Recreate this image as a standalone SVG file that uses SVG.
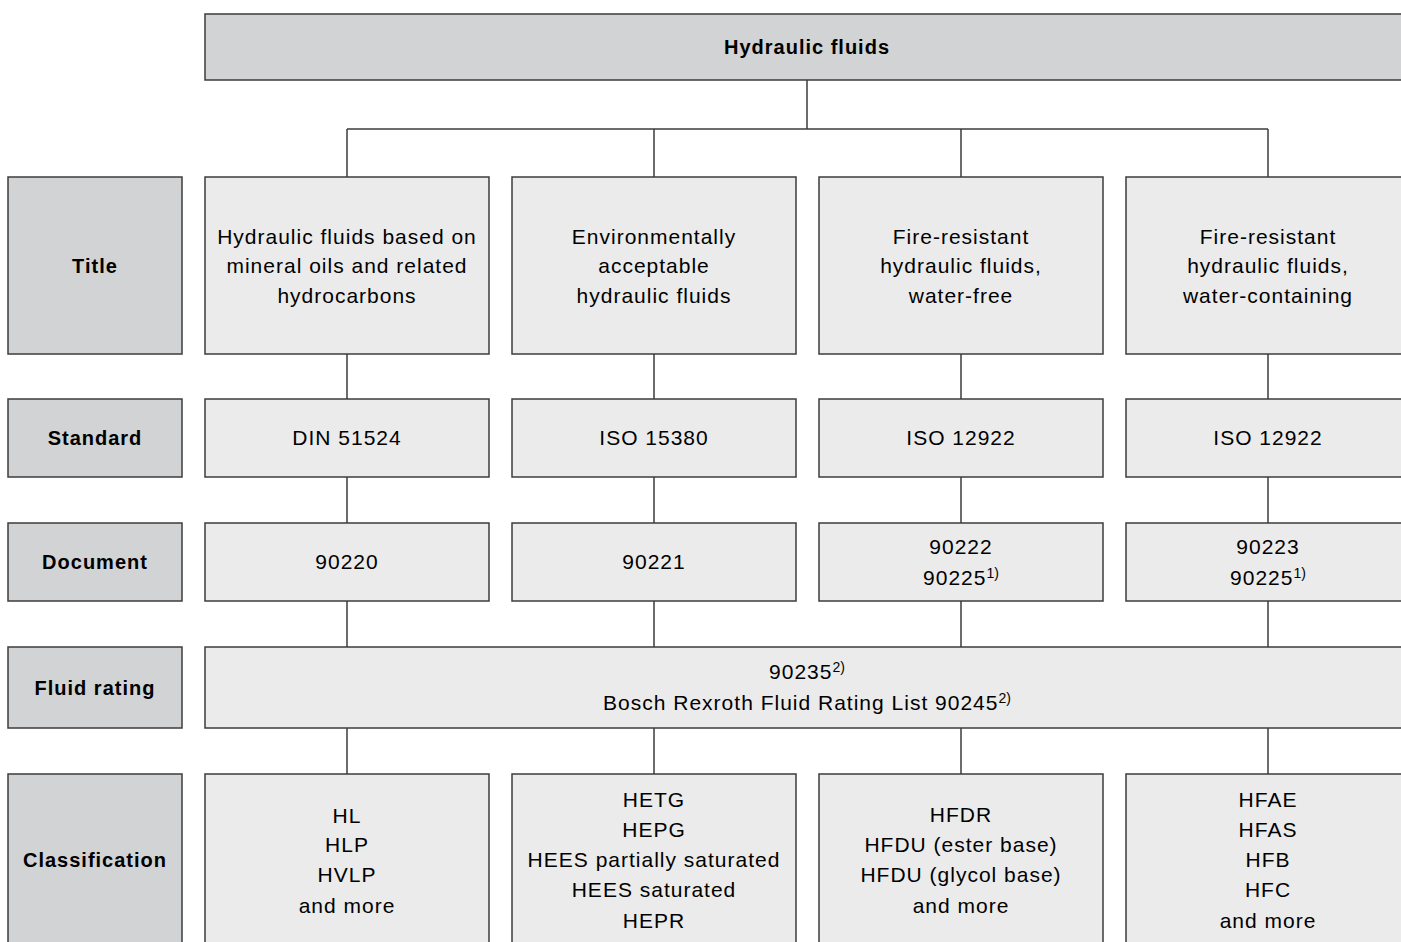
<svg xmlns="http://www.w3.org/2000/svg" width="1401" height="942" viewBox="0 0 1401 942">
<style>
.hd{fill:#d2d3d5;stroke:#3c3c3c;stroke-width:1.5}
.bx{fill:#ebebeb;stroke:#3c3c3c;stroke-width:1.5}
.ln{fill:none;stroke:#3c3c3c;stroke-width:1.5}
text{font-family:"Liberation Sans",Arial,sans-serif;font-size:21px;letter-spacing:1px;fill:#000;text-anchor:middle}
.b{font-weight:bold;font-size:20px;letter-spacing:1px}
.sup{font-size:14px;letter-spacing:0}
</style>
<rect width="1401" height="942" fill="#fff"/>
<g id="connectors">
<path class="ln" d="M807 80V129M347 129H1268M347 129V177M654 129V177M961 129V177M1268 129V177"/>
<path class="ln" d="M347 354V399M654 354V399M961 354V399M1268 354V399"/>
<path class="ln" d="M347 477V523M654 477V523M961 477V523M1268 477V523"/>
<path class="ln" d="M347 601V647M654 601V647M961 601V647M1268 601V647"/>
<path class="ln" d="M347 728V774M654 728V774M961 728V774M1268 728V774"/>
</g>
<g id="root"><rect class="hd" x="205" y="14" width="1210" height="66"/><text class="b" x="807" y="54">Hydraulic fluids</text></g>
<g id="lbl-title"><rect class="hd" x="8" y="177" width="174" height="177"/><text class="b" x="95" y="273">Title</text></g>
<g id="lbl-standard"><rect class="hd" x="8" y="399" width="174" height="78"/><text class="b" x="95" y="445">Standard</text></g>
<g id="lbl-document"><rect class="hd" x="8" y="523" width="174" height="78"/><text class="b" x="95" y="569">Document</text></g>
<g id="lbl-rating"><rect class="hd" x="8" y="647" width="174" height="81"/><text class="b" x="95" y="695">Fluid rating</text></g>
<g id="lbl-class"><rect class="hd" x="8" y="774" width="174" height="180"/><text class="b" x="95" y="867">Classification</text></g>

<g id="t1"><rect class="bx" x="205" y="177" width="284" height="177"/><text x="347" y="244">Hydraulic fluids based on</text><text x="347" y="273">mineral oils and related</text><text x="347" y="303">hydrocarbons</text></g>
<g id="t2"><rect class="bx" x="512" y="177" width="284" height="177"/><text x="654" y="244">Environmentally</text><text x="654" y="273">acceptable</text><text x="654" y="303">hydraulic fluids</text></g>
<g id="t3"><rect class="bx" x="819" y="177" width="284" height="177"/><text x="961" y="244">Fire-resistant</text><text x="961" y="273">hydraulic fluids,</text><text x="961" y="303">water-free</text></g>
<g id="t4"><rect class="bx" x="1126" y="177" width="290" height="177"/><text x="1268" y="244">Fire-resistant</text><text x="1268" y="273">hydraulic fluids,</text><text x="1268" y="303">water-containing</text></g>

<g id="s1"><rect class="bx" x="205" y="399" width="284" height="78"/><text x="347" y="445">DIN 51524</text></g>
<g id="s2"><rect class="bx" x="512" y="399" width="284" height="78"/><text x="654" y="445">ISO 15380</text></g>
<g id="s3"><rect class="bx" x="819" y="399" width="284" height="78"/><text x="961" y="445">ISO 12922</text></g>
<g id="s4"><rect class="bx" x="1126" y="399" width="290" height="78"/><text x="1268" y="445">ISO 12922</text></g>

<g id="d1"><rect class="bx" x="205" y="523" width="284" height="78"/><text x="347" y="569">90220</text></g>
<g id="d2"><rect class="bx" x="512" y="523" width="284" height="78"/><text x="654" y="569">90221</text></g>
<g id="d3"><rect class="bx" x="819" y="523" width="284" height="78"/><text x="961" y="554">90222</text><text x="961" y="585">90225<tspan class="sup" dy="-7">1)</tspan></text></g>
<g id="d4"><rect class="bx" x="1126" y="523" width="290" height="78"/><text x="1268" y="554">90223</text><text x="1268" y="585">90225<tspan class="sup" dy="-7">1)</tspan></text></g>

<g id="rating"><rect class="bx" x="205" y="647" width="1210" height="81"/><text x="807" y="679">90235<tspan class="sup" dy="-7">2)</tspan></text><text x="807" y="710">Bosch Rexroth Fluid Rating List 90245<tspan class="sup" dy="-7">2)</tspan></text></g>

<g id="c1"><rect class="bx" x="205" y="774" width="284" height="180"/><text x="347" y="823">HL</text><text x="347" y="852">HLP</text><text x="347" y="882">HVLP</text><text x="347" y="913">and more</text></g>
<g id="c2"><rect class="bx" x="512" y="774" width="284" height="180"/><text x="654" y="807">HETG</text><text x="654" y="837">HEPG</text><text x="654" y="867">HEES partially saturated</text><text x="654" y="897">HEES saturated</text><text x="654" y="928">HEPR</text></g>
<g id="c3"><rect class="bx" x="819" y="774" width="284" height="180"/><text x="961" y="822">HFDR</text><text x="961" y="852">HFDU (ester base)</text><text x="961" y="882">HFDU (glycol base)</text><text x="961" y="913">and more</text></g>
<g id="c4"><rect class="bx" x="1126" y="774" width="290" height="180"/><text x="1268" y="807">HFAE</text><text x="1268" y="837">HFAS</text><text x="1268" y="867">HFB</text><text x="1268" y="897">HFC</text><text x="1268" y="928">and more</text></g>
</svg>
